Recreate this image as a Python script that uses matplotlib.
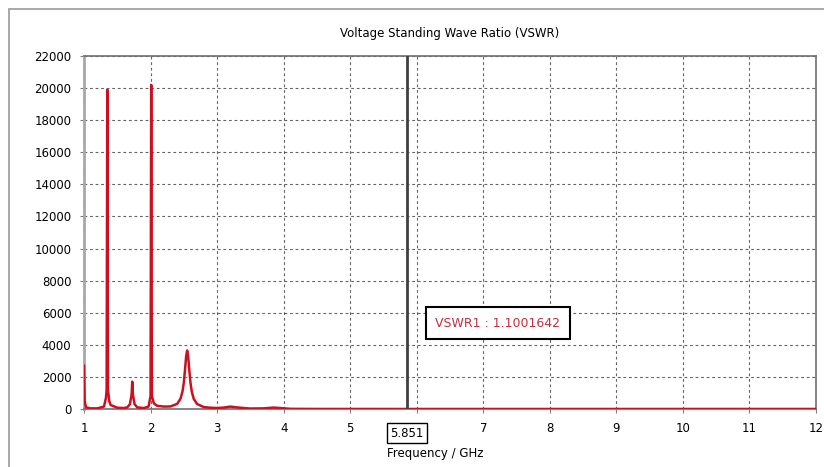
import matplotlib.pyplot as plt
from matplotlib.patches import Rectangle

# VSWR trace (GHz, VSWR)
freq = [1.0, 1.005, 1.01, 1.03, 1.1, 1.2, 1.3, 1.33, 1.34, 1.35, 1.36, 1.38,
        1.4, 1.5, 1.6, 1.65, 1.69, 1.715, 1.725, 1.735, 1.76, 1.8, 1.9, 1.97,
        2.0, 2.01, 2.02, 2.05, 2.1, 2.2, 2.3, 2.4, 2.45, 2.48, 2.5, 2.52,
        2.535, 2.55, 2.565, 2.58, 2.6, 2.62, 2.65, 2.7, 2.8, 2.9, 3.0, 3.1,
        3.2, 3.3, 3.4, 3.5, 3.7, 3.85, 3.95, 4.1, 4.5, 5.0, 6.0, 8.0, 10.0, 12.0]
vswr = [2700, 1500, 500, 100, 40, 40, 150, 700, 1200, 19900, 1200, 500,
        250, 80, 60, 100, 300, 900, 1700, 900, 300, 100, 60, 150,
        800, 20200, 800, 350, 200, 150, 160, 320, 640, 1090, 1650, 2540,
        3290, 3650, 3290, 2530, 1640, 1070, 620, 310, 120, 80, 60, 90,
        150, 100, 60, 30, 40, 90, 60, 10, 3, 2, 1.1, 1.5, 1.8, 2]

marker_f = 5.851
marker_label = "VSWR1 : 1.1001642"

xticks = list(range(1, 13))
xtick_labels = [str(t) if t != 6 else "" for t in xticks]
yticks = list(range(0, 22001, 2000))

plt.rcParams['font.family'] = ['DejaVu Sans']
plt.rcParams['font.size'] = 8

fig = plt.figure(figsize=(8.24, 4.67), dpi=100)
ax = fig.add_axes([84 / 824, 1 - 409 / 467, (816 - 84) / 824, (409 - 56) / 467])

# window frame of the screenshot
fig.patches.append(Rectangle((9 / 824, -0.1), 1.2, 1 - 9 / 467 + 0.1,
                             transform=fig.transFigure, fill=False,
                             edgecolor='#9a9a9a', linewidth=1.2))

ax.plot(freq, vswr, color='#cc1020', linewidth=1.8, zorder=3)
ax.axvline(marker_f, color='#404040', linewidth=2, zorder=4)

ax.set_xlim(1, 12)
ax.set_ylim(0, 22000)
ax.set_xticks(xticks)
ax.set_xticklabels(xtick_labels)
ax.set_yticks(yticks)
ax.grid(True, color='#303030', linestyle=(0, (2.5, 2.5)), linewidth=0.8, alpha=0.75)
ax.tick_params(length=3, color='#808080', labelsize=8.5, pad=6)

for s in ['top', 'right', 'bottom']:
    ax.spines[s].set_color('#707070')
    ax.spines[s].set_linewidth(1.2)
ax.spines['left'].set_color('#a8a8a8')
ax.spines['left'].set_linewidth(2)

ax.set_title("Voltage Standing Wave Ratio (VSWR)", fontsize=8.5, pad=14)
ax.text(0.48, -0.125, "Frequency / GHz", transform=ax.transAxes,
        ha='center', va='center', fontsize=8.5)

# marker readout boxes
ax.text(6.28, 5350, marker_label, color='#c03040', fontsize=9,
        ha='left', va='center', zorder=5,
        bbox=dict(boxstyle='square,pad=0.75', facecolor='white',
                  edgecolor='black', linewidth=1.5))
ax.text(marker_f, -0.068, "5.851", transform=ax.get_xaxis_transform(),
        ha='center', va='center', fontsize=8.5, clip_on=False,
        bbox=dict(boxstyle='square,pad=0.3', facecolor='white',
                  edgecolor='black', linewidth=1))

fig.savefig("out.png", dpi=100)
